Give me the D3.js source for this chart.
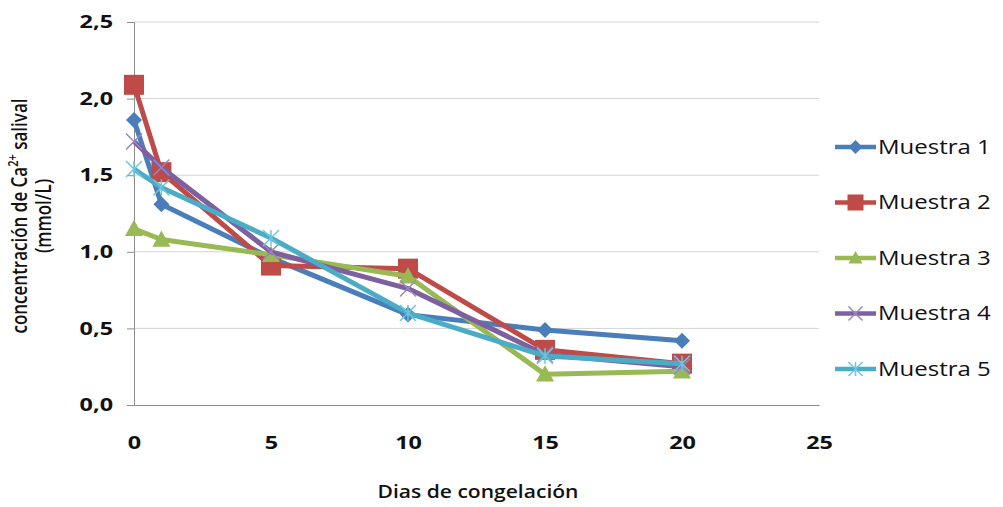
<!DOCTYPE html>
<html><head><meta charset="utf-8">
<script src="https://cdn.jsdelivr.net/npm/d3@7"></script>
<style>
body{margin:0;background:#fff;}
text{font-family:"Open Sans","Liberation Sans",sans-serif;}
</style></head>
<body><svg id="c" width="1003" height="507"></svg>
<script>
const days = [0, 1, 5, 10, 15, 20];
const seriesNames = ["Muestra 1", "Muestra 2", "Muestra 3", "Muestra 4", "Muestra 5"];
const muestra1 = [1.86, 1.31, 0.96, 0.59, 0.49, 0.42];
const muestra2 = [2.09, 1.52, 0.91, 0.89, 0.36, 0.27];
const muestra3 = [1.15, 1.08, 0.98, 0.84, 0.20, 0.22];
const muestra4 = [1.72, 1.55, 1.00, 0.76, 0.33, 0.25];
const muestra5 = [1.54, 1.42, 1.09, 0.60, 0.32, 0.27];
const xTicks = [0, 5, 10, 15, 20, 25];
const yTicks = [0, 0.5, 1.0, 1.5, 2.0, 2.5];
const colors = ["#4A7EBB", "#BE4B48", "#98B954", "#7D60A0", "#4BACC6"];
const markerTypes = ["diamond", "square", "triangle", "x", "star"];
const allSeries = [muestra1, muestra2, muestra3, muestra4, muestra5];

const svg = d3.select("#c");
const x = d3.scaleLinear().domain([0, 25]).range([134, 819]);
const y = d3.scaleLinear().domain([0, 2.5]).range([405, 22]);
const fmt = v => d3.format(".1f")(v).replace(".", ",");

// horizontally stretch a text around its anchor x
function stretch(sel, k) {
  sel.each(function () {
    const t = d3.select(this);
    const ax = +(t.attr("x") || 0);
    t.attr("transform", `translate(${ax},0) scale(${k},1) translate(${-ax},0)`);
  });
}

// gridlines
svg.append("g").selectAll("line").data(yTicks.filter(v => v > 0)).join("line")
  .attr("x1", x(0)).attr("x2", x(25)).attr("y1", d => y(d)).attr("y2", d => y(d))
  .attr("stroke", "#d4d4d4").attr("stroke-width", 1);

// y axis
const ya = svg.append("g").attr("transform", `translate(${x(0)},0)`)
  .call(d3.axisLeft(y).tickValues(yTicks).tickFormat(fmt).tickSize(7).tickPadding(14));
ya.select(".domain").attr("stroke", "#8c8c8c");
ya.selectAll(".tick line").attr("stroke", "#8c8c8c");
ya.selectAll("text").attr("font-size", 18).attr("font-weight", 700).attr("fill", "#111")
  .attr("font-family", "'Open Sans',sans-serif");
stretch(ya.selectAll("text"), 1.3);

// x axis
const xa = svg.append("g").attr("transform", `translate(0,${y(0)})`)
  .call(d3.axisBottom(x).tickValues(xTicks).tickFormat(d3.format("d")).tickSize(0).tickPadding(31));
xa.select(".domain").attr("stroke", "#8c8c8c");
xa.selectAll("text").attr("font-size", 18).attr("font-weight", 700).attr("fill", "#111")
  .attr("font-family", "'Open Sans',sans-serif");
stretch(xa.selectAll("text"), 1.3);

// axis titles
const xt = svg.append("text").attr("x", 478).attr("y", 498).attr("text-anchor", "middle")
  .attr("font-size", 18).attr("font-weight", 600).attr("fill", "#111").text("Dias de congelación");
stretch(xt, 1.17);
const yt = svg.append("text").attr("transform", "translate(27,216) scale(1.25,1) rotate(-90)")
  .attr("text-anchor", "middle").attr("font-size", 17).attr("font-weight", 600).attr("fill", "#111");
yt.append("tspan").attr("x", 0).attr("dy", 0).text("concentración de Ca");
yt.append("tspan").attr("dy", -7).attr("font-size", 11).text("2+");
yt.append("tspan").attr("dy", 7).text("  salival");
svg.append("text").attr("transform", "translate(51,216) scale(1.25,1) rotate(-90)").attr("text-anchor", "middle")
  .attr("font-size", 17).attr("font-weight", 600).attr("fill", "#111").text("(mmol/L)");

function drawMarker(g, type, color, cx, cy, s) {
  if (type === "diamond") {
    g.append("path").attr("d", `M${cx},${cy - s}L${cx + s},${cy}L${cx},${cy + s}L${cx - s},${cy}Z`).attr("fill", color);
  } else if (type === "square") {
    g.append("rect").attr("x", cx - s).attr("y", cy - s).attr("width", 2 * s).attr("height", 2 * s).attr("fill", color);
  } else if (type === "triangle") {
    g.append("path").attr("d", `M${cx},${cy - s}L${cx + s},${cy + s * 0.8}L${cx - s},${cy + s * 0.8}Z`).attr("fill", color);
  } else if (type === "x") {
    g.append("path").attr("d", `M${cx - s},${cy - s}L${cx + s},${cy + s}M${cx - s},${cy + s}L${cx + s},${cy - s}`)
      .attr("stroke", "#9a86c0").attr("stroke-width", 1.5);
  } else if (type === "star") {
    g.append("path").attr("d", `M${cx - s},${cy - s}L${cx + s},${cy + s}M${cx - s},${cy + s}L${cx + s},${cy - s}M${cx},${cy - s}L${cx},${cy + s}`)
      .attr("stroke", "#6cc6de").attr("stroke-width", 1.5);
  }
}

const line = d3.line().x((d, i) => x(days[i])).y(d => y(d));
const msize = [8, 10, 9, 8, 8];
allSeries.forEach((vals, si) => {
  const g = svg.append("g");
  g.append("path").datum(vals).attr("d", line).attr("fill", "none")
    .attr("stroke", colors[si]).attr("stroke-width", 5).attr("stroke-linejoin", "round");
  vals.forEach((v, i) => drawMarker(g, markerTypes[si], colors[si], x(days[i]), y(v), msize[si]));
});

// legend
const legY = d3.scaleLinear().domain([0, 4]).range([147, 369]);
seriesNames.forEach((name, si) => {
  const g = svg.append("g");
  const ly = legY(si);
  g.append("line").attr("x1", 835).attr("x2", 876).attr("y1", ly).attr("y2", ly)
    .attr("stroke", colors[si]).attr("stroke-width", 4.5);
  drawMarker(g, markerTypes[si], colors[si], 855.5, ly, si === 1 ? 8 : 7);
  const t = g.append("text").attr("x", 878).attr("y", ly + 7).attr("font-size", 20).attr("fill", "#111").text(name);
  stretch(t, 1.2);
});
</script></body></html>
